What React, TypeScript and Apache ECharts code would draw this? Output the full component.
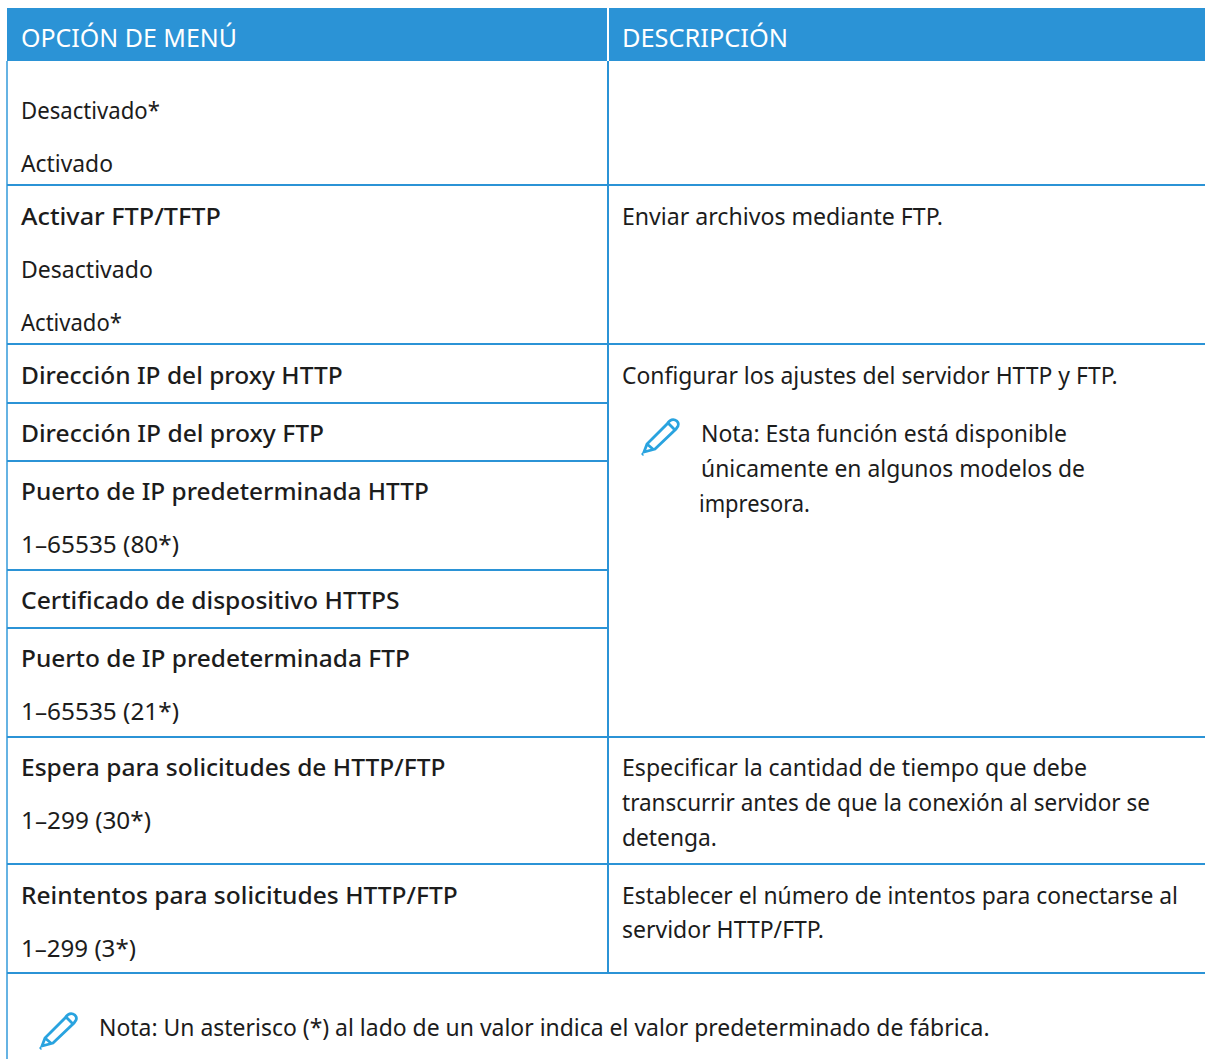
import React, { useEffect, useRef } from "react";
import * as echarts from "echarts";

const headerLabels = ["OPCIÓN DE MENÚ", "DESCRIPCIÓN"];
const headerRight = [237, 788];
const leftTexts = [
  "Desactivado*", "Activado", "Activar FTP/TFTP", "Desactivado", "Activado*",
  "Dirección IP del proxy HTTP", "Dirección IP del proxy FTP", "Puerto de IP predeterminada HTTP",
  "1–65535 (80*)", "Certificado de dispositivo HTTPS", "Puerto de IP predeterminada FTP",
  "1–65535 (21*)", "Espera para solicitudes de HTTP/FTP", "1–299 (30*)",
  "Reintentos para solicitudes HTTP/FTP", "1–299 (3*)",
];
const leftCenters = [110, 163, 216, 269, 322, 375, 433, 491, 544, 600, 658, 711, 767, 820, 895, 948];
const leftRight = [160, 113, 221, 153, 122, 343, 324, 429, 179, 400, 410, 179, 446, 151, 458, 136];
const leftBold = [2, 5, 6, 7, 9, 10, 12, 14];
const rightTexts = [
  "Enviar archivos mediante FTP.", "Configurar los ajustes del servidor HTTP y FTP.",
  "Nota: Esta función está disponible", "únicamente en algunos modelos de", "impresora.",
  "Especificar la cantidad de tiempo que debe", "transcurrir antes de que la conexión al servidor se", "detenga.",
  "Establecer el número de intentos para conectarse al", "servidor HTTP/FTP.",
];
const rightCenters = [216, 375, 433, 468, 503, 767, 802, 837, 895, 929];
const rightX = [622, 622, 701, 701, 699, 622, 622, 622, 622, 622];
const rightRight = [943, 1118, 1067, 1085, 810, 1087, 1150, 717, 1178, 824];
const footNote = "Nota: Un asterisco (*) al lado de un valor indica el valor predeterminado de fábrica.";
const fullRules = [185, 344, 737, 864, 973];
const leftRules = [403, 461, 570, 628];

const PENCIL = "M7 43 L8 42 M9 40 L12 32 L32 12 C34 9 37 7 40 8 C43 9 44 12 43 14 L41 17 L20 37 Z M12 32 L19 38 M33 11 L40 18";
echarts.graphic.registerShape("pencil", echarts.graphic.extendPath(PENCIL, {}) as any);

const FONT = "'Noto Sans', sans-serif";
const INK = "#1c1c1c";
const BLUE = "#2b93d6";
const SIZE = 24;

const ctx = document.createElement("canvas").getContext("2d")!;

export default function App() {
  const ref = useRef<HTMLDivElement>(null);
  useEffect(() => {
    const chart = echarts.init(ref.current!, undefined, { renderer: "svg" });
    const txt = (text: string, x: number, y: number, right: number, bold = false, fill = INK, size = SIZE) => {
      const font = `${bold ? 500 : 400} ${size}px ${FONT}`;
      ctx.font = font;
      return {
        type: "text", x, y, scaleX: (right - x) / ctx.measureText(text).width,
        style: { text, fill, font, verticalAlign: "middle" },
      };
    };
    const hLine = (y: number, x2: number) => ({ type: "rect", shape: { x: 7, y: y - 1, width: x2 - 7, height: 2 }, style: { fill: BLUE } });
    const pencil = (x: number, y: number) => ({
      type: "pencil", x, y,
      style: { fill: "none", stroke: "#29a3df", lineWidth: 2.8 },
    });
    const graphic: any[] = [
      { type: "rect", shape: { x: 7, y: 8, width: 1198, height: 53 }, style: { fill: BLUE } },
      { type: "rect", shape: { x: 607, y: 8, width: 2, height: 53 }, style: { fill: "#ffffff" } },
      { type: "rect", shape: { x: 607, y: 61, width: 2, height: 912 }, style: { fill: BLUE } },
      { type: "rect", shape: { x: 6, y: 61, width: 2, height: 998 }, style: { fill: "#66b3e3" } },
      ...fullRules.map((y) => hLine(y, 1205)),
      ...leftRules.map((y) => hLine(y, 608)),
      txt(headerLabels[0], 21, 37, headerRight[0], false, "#ffffff", 25),
      txt(headerLabels[1], 622, 37, headerRight[1], false, "#ffffff", 25),
      ...leftTexts.map((t, i) => txt(t, 21, leftCenters[i], leftRight[i], leftBold.includes(i))),
      ...rightTexts.map((t, i) => txt(t, rightX[i], rightCenters[i], rightRight[i])),
      txt(footNote, 99, 1027, 990),
      pencil(635, 412),
      pencil(33, 1006),
    ];
    chart.setOption({ animation: false, graphic });
    return () => chart.dispose();
  }, []);
  return <div ref={ref} style={{ position: "absolute", left: 0, top: 0, width: 1205, height: 1059, background: "#fff" }} />;
}
